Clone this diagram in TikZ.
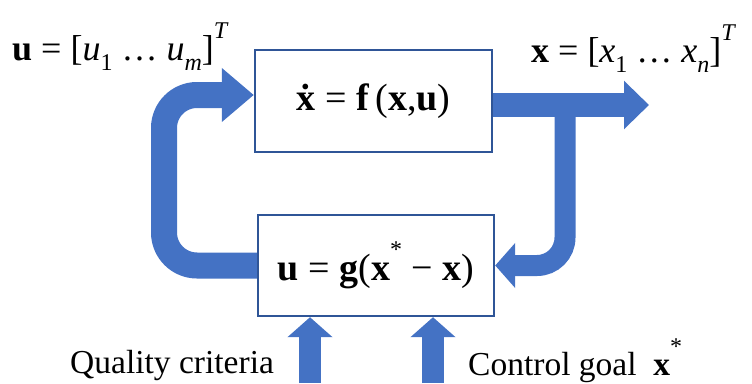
\documentclass[tikz,border=0pt]{standalone}
\usepackage{fontspec}
\setmainfont{Liberation Serif}
\usetikzlibrary{arrows.meta,calc,positioning}
\definecolor{flowblue}{HTML}{4472C4}
\definecolor{boxblue}{HTML}{2F5597}
\newcommand{\lowidx}[1]{\raisebox{-0.3em}{\fontsize{24}{24}\selectfont #1}}
\newcommand{\highidx}[1]{\raisebox{0.6em}{\fontsize{24}{24}\selectfont #1}}

\begin{document}
\begin{tikzpicture}[
        x=1pt, y=-1pt,
        block/.style={
            draw=boxblue,
            line width=2.4pt,
            fill=white,
            minimum width=237pt,
            minimum height=102pt,
            inner sep=0pt,
            font=\fontsize{38}{44}\selectfont
        },
        vec/.style={inner sep=0pt, font=\fontsize{36}{42}\selectfont},
        note/.style={inner sep=0pt, font=\fontsize{33.5}{40}\selectfont},
        pipe/.style={draw=flowblue, line width=22pt, -{Triangle[length=20pt, width=44pt]}}
    ]
        \useasboundingbox (0,0) rectangle (752,383);

        \node[block] (plant) at (373.5,101) {\textbf{\.x} = \textbf{f}\,(\textbf{x},\textbf{u})};
        \node[block, minimum width=236pt, minimum height=101pt] (ctrl) at (376,265.5) {\textbf{u} = \textbf{g}(\textbf{x}\highidx{*} − \textbf{x})};

        \node[vec, anchor=base west] (uvec) at (12,60) {\textbf{u} = [\textit{u}\lowidx{1}\ \ldots\ \textit{u}\lowidx{\textit{m}}]\highidx{\textit{T}}};
        \node[vec, anchor=base west] (xvec) at (531,62) {\textbf{x} = [\textit{x}\lowidx{1}\ \ldots\ \textit{x}\lowidx{\textit{n}}]\highidx{\textit{T}}};
        \node[note, anchor=base west] (quality) at (70,373) {Quality criteria};
        \node[note, anchor=base west] (goal) at (468,375) {Control goal\ \ \textbf{x}\highidx{*}};

        \coordinate (xout) at (649,105);
        \coordinate (tap) at (565,105);
        \coordinate (uin) at ([yshift=6pt]plant.west);
        \coordinate (loopx) at (164,0);
        \coordinate (qsrc) at (310,383);
        \coordinate (gsrc) at (433,383);

        \draw[pipe, line width=26pt, rounded corners=33pt, -{Triangle[length=32pt, width=52pt]}]
            (ctrl.west) -| (loopx |- uin) -- (uin);
        \draw[pipe, line width=21pt, rounded corners=28pt] (tap) |- (ctrl.east);
        \draw[pipe, line width=24pt, -{Triangle[length=25pt, width=47pt]}] (plant.east |- xout) -- (xout);
        \draw[pipe] (qsrc) -- (qsrc |- ctrl.south);
        \draw[pipe] (gsrc) -- (gsrc |- ctrl.south);
    \end{tikzpicture}
\end{document}
